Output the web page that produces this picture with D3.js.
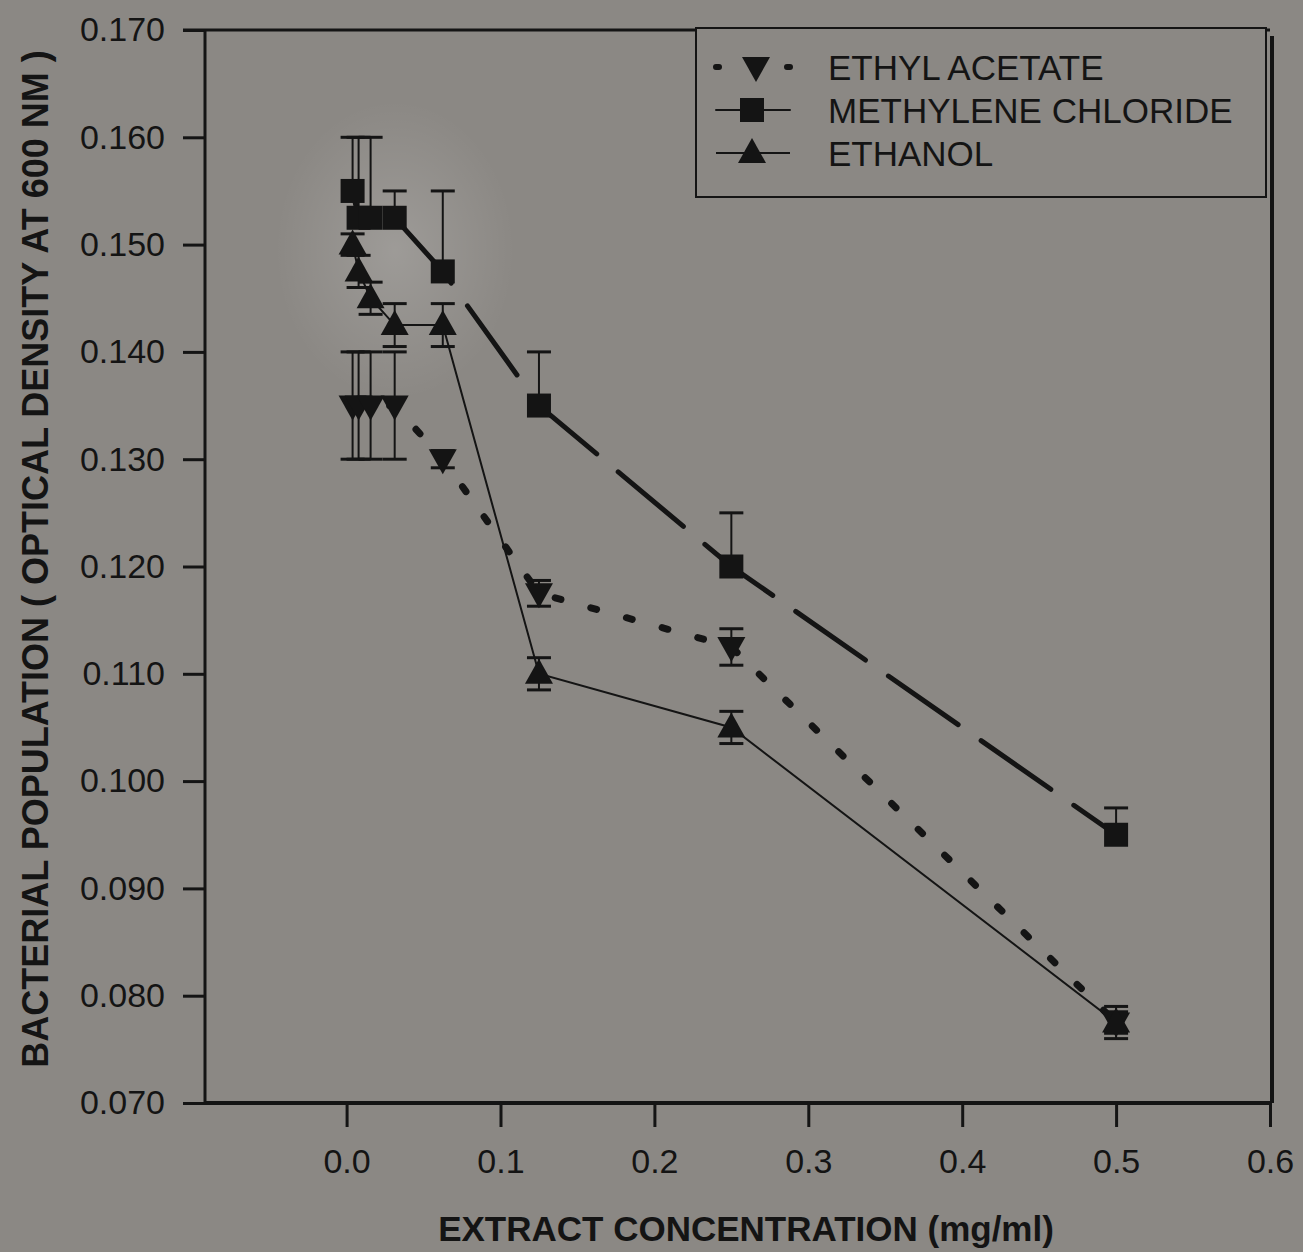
<!DOCTYPE html>
<html>
<head>
<meta charset="utf-8">
<script src="https://cdn.jsdelivr.net/npm/d3@7"></script>
<style>
  body { margin: 0; background: #8b8884; }
  svg { display: block; }
  text { font-family: "Liberation Sans", Arial, sans-serif; fill: #141414; }
</style>
</head>
<body>
<div id="chart"></div>
<script>
// extract concentrations (mg/ml)
var conc = [0.0039, 0.0078, 0.0156, 0.03125, 0.0625, 0.125, 0.25, 0.5];

// optical density at 600 nm
var ethylAcetate    = [0.135, 0.135, 0.135, 0.135, 0.130, 0.1175, 0.1125, 0.0775];
var ethylAcetateErr = [0.005, 0.005, 0.005, 0.005, 0.0008, 0.0012, 0.0017, 0.0015];
var methylene       = [0.155, 0.1525, 0.1525, 0.1525, 0.1475, 0.135, 0.120, 0.095];
var methyleneErr    = [0.005, 0.0075, 0.0075, 0.0025, 0.0075, 0.005, 0.005, 0.0025];
var ethanol         = [0.150, 0.1475, 0.145, 0.1425, 0.1425, 0.110, 0.105, 0.0775];
var ethanolErr      = [0.001, 0.0015, 0.0015, 0.002, 0.002, 0.0015, 0.0015, 0.001];

var xTicks = [0.0, 0.1, 0.2, 0.3, 0.4, 0.5, 0.6];
var yTicks = [0.070, 0.080, 0.090, 0.100, 0.110, 0.120, 0.130, 0.140, 0.150, 0.160, 0.170];
var seriesNames = ["ETHYL ACETATE", "METHYLENE CHLORIDE", "ETHANOL"];

(function() {
  var width = 1303,
      height = 1252,
      ink = "#141414",
      bg = "#8b8884";

  var left = 205, right = 1270, top = 30, bottom = 1103;

  var svg = d3.select("#chart").append("svg")
      .attr("width", width)
      .attr("height", height);

  var defs = svg.append("defs");
  var grad = defs.append("radialGradient").attr("id", "smudge");
  grad.append("stop").attr("offset", "0%").attr("stop-color", "#fff").attr("stop-opacity", 0.16);
  grad.append("stop").attr("offset", "100%").attr("stop-color", "#fff").attr("stop-opacity", 0);

  svg.append("rect").attr("width", width).attr("height", height).attr("fill", bg);
  // lighter blotch behind the crowded points in the scan
  svg.append("ellipse")
      .attr("cx", 395).attr("cy", 250).attr("rx", 120).attr("ry", 150)
      .attr("fill", "url(#smudge)");

  var x = d3.scaleLinear().domain([-0.092, 0.6]).range([left, right]);
  var y = d3.scaleLinear().domain([0.07, 0.17]).range([bottom, top]);

  // axes
  var xAxis = d3.axisBottom(x).tickValues(xTicks).tickSize(24).tickPadding(22)
      .tickFormat(d3.format(".1f"));
  var yAxis = d3.axisLeft(y).tickValues(yTicks).tickSize(22).tickPadding(18)
      .tickFormat(d3.format(".3f"));

  var gx = svg.append("g").attr("transform", "translate(0," + bottom + ")").call(xAxis);
  var gy = svg.append("g").attr("transform", "translate(" + left + ",0)").call(yAxis);

  [gx, gy].forEach(function(g) {
    g.select(".domain").remove();
    g.selectAll(".tick line").attr("stroke", ink).attr("stroke-width", 3);
    g.selectAll(".tick text")
      .attr("fill", ink)
      .style("font-size", "34px")
      .style("font-family", "'Liberation Sans', Arial, sans-serif");
  });
  gx.selectAll(".tick text").attr("dy", "0.71em");

  // frame
  svg.append("line").attr("x1", left).attr("x2", right).attr("y1", bottom).attr("y2", bottom)
      .attr("stroke", ink).attr("stroke-width", 4);
  svg.append("line").attr("x1", left).attr("x2", left).attr("y1", top).attr("y2", bottom)
      .attr("stroke", ink).attr("stroke-width", 3);
  svg.append("line").attr("x1", left - 22).attr("x2", right).attr("y1", top).attr("y2", top)
      .attr("stroke", ink).attr("stroke-width", 3);
  svg.append("line").attr("x1", right + 2).attr("x2", right + 2).attr("y1", top + 6).attr("y2", bottom)
      .attr("stroke", ink).attr("stroke-width", 4);

  // axis titles
  svg.append("text")
      .attr("x", 746)
      .attr("y", 1241)
      .attr("text-anchor", "middle")
      .style("font-size", "35px")
      .style("font-weight", "bold")
      .text("EXTRACT CONCENTRATION (mg/ml)");

  svg.append("text")
      .attr("transform", "translate(48,559) rotate(-90)")
      .attr("text-anchor", "middle")
      .style("font-size", "36px")
      .style("font-weight", "bold")
      .text("BACTERIAL POPULATION ( OPTICAL DENSITY AT 600 NM )");

  function rows(vals, errs) {
    return conc.map(function(c, i) { return { x: c, y: vals[i], e: errs[i] }; });
  }

  var series = [
    { name: seriesNames[0], data: rows(ethylAcetate, ethylAcetateErr), symbol: "down",
      width: 7, dash: "6,31", cap: "round", offset: 0, errDir: "both" },
    { name: seriesNames[1], data: rows(methylene, methyleneErr), symbol: "square",
      width: 5, dash: "85,28", cap: "round", offset: 48, errDir: "up" },
    { name: seriesNames[2], data: rows(ethanol, ethanolErr), symbol: "up",
      width: 2, dash: null, cap: "butt", offset: 0, errDir: "both" }
  ];

  var line = d3.line().x(function(d) { return x(d.x); }).y(function(d) { return y(d.y); });

  // connecting lines
  svg.selectAll(".series-line")
    .data(series)
    .enter().append("path")
      .attr("class", "series-line")
      .attr("d", function(s) { return line(s.data); })
      .attr("fill", "none")
      .attr("stroke", ink)
      .attr("stroke-width", function(s) { return s.width; })
      .attr("stroke-linecap", function(s) { return s.cap; })
      .attr("stroke-dasharray", function(s) { return s.dash; })
      .attr("stroke-dashoffset", function(s) { return s.offset; });

  // error bars
  var capHalf = 12;
  series.forEach(function(s) {
    var g = svg.append("g").attr("class", "errors");
    s.data.forEach(function(d) {
      var cx = x(d.x);
      var ends = [d.y + d.e];
      if (s.errDir === "both") ends.push(d.y - d.e);
      ends.forEach(function(v) {
        g.append("line")
          .attr("x1", cx).attr("x2", cx)
          .attr("y1", y(d.y)).attr("y2", y(v))
          .attr("stroke", ink).attr("stroke-width", 2);
        g.append("line")
          .attr("x1", cx - capHalf).attr("x2", cx + capHalf)
          .attr("y1", y(v)).attr("y2", y(v))
          .attr("stroke", ink).attr("stroke-width", 3);
      });
    });
  });

  function drawSymbol(g, type, cx, cy) {
    if (type === "square") {
      g.append("rect")
        .attr("x", cx - 12).attr("y", cy - 12)
        .attr("width", 24).attr("height", 24)
        .attr("fill", ink);
    } else if (type === "up") {
      g.append("path")
        .attr("d", "M0,-15L14,10L-14,10Z")
        .attr("transform", "translate(" + cx + "," + cy + ")")
        .attr("fill", ink);
    } else {
      g.append("path")
        .attr("d", "M0,15L14,-10L-14,-10Z")
        .attr("transform", "translate(" + cx + "," + cy + ")")
        .attr("fill", ink);
    }
  }

  // symbols
  series.forEach(function(s) {
    var g = svg.append("g").attr("class", "symbols");
    s.data.forEach(function(d) { drawSymbol(g, s.symbol, x(d.x), y(d.y)); });
  });

  // legend
  var legend = svg.append("g");
  legend.append("rect")
      .attr("x", 696).attr("y", 28)
      .attr("width", 570).attr("height", 169)
      .attr("fill", bg)
      .attr("stroke", ink).attr("stroke-width", 2);

  var rowY = [67, 110, 153];
  series.forEach(function(s, i) {
    var ly = rowY[i];
    legend.append("line")
      .attr("x1", 716).attr("x2", 790)
      .attr("y1", ly).attr("y2", ly)
      .attr("stroke", ink)
      .attr("stroke-width", i === 0 ? 6 : 2)
      .attr("stroke-linecap", s.cap)
      .attr("stroke-dasharray", i === 0 ? "3,68" : null);
    drawSymbol(legend, s.symbol, i === 0 ? 756 : 752, ly);
    legend.append("text")
      .attr("x", 828).attr("y", ly)
      .attr("dy", "0.36em")
      .style("font-size", "35px")
      .text(s.name);
  });
})();
</script>
</body>
</html>
